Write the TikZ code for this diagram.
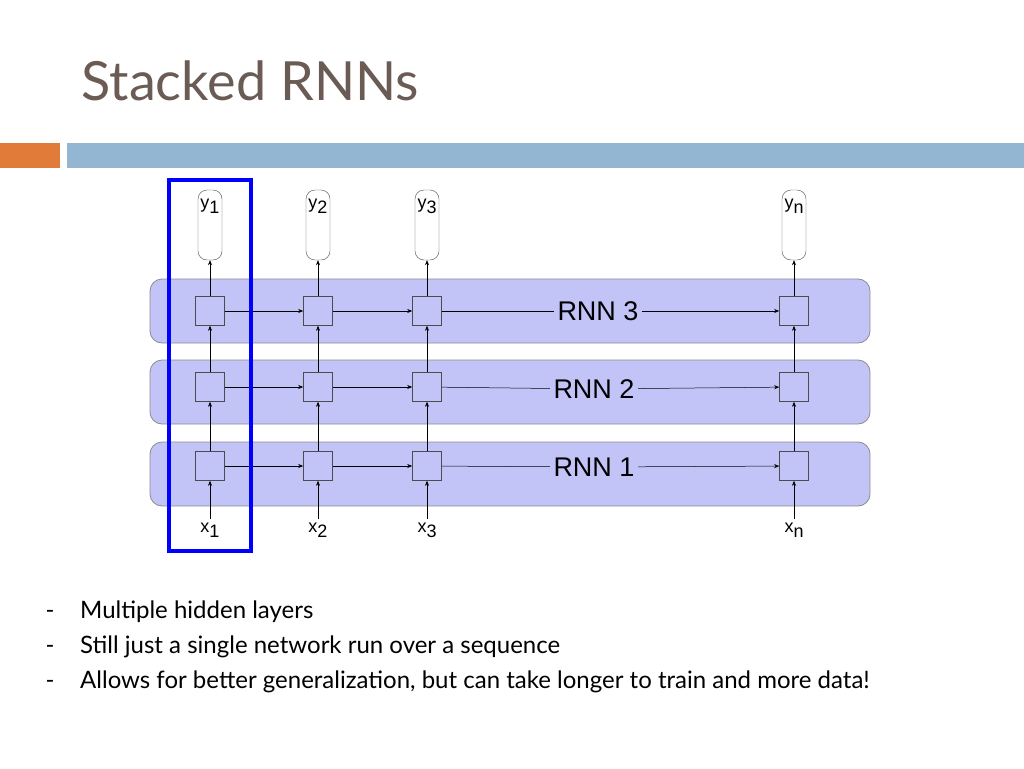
\documentclass[tikz,border=0pt]{standalone}
\usepackage{fontspec}
\setmainfont{Lato}
\newfontfamily\helv{Liberation Sans}
\usetikzlibrary{arrows.meta,positioning}
\definecolor{titlegray}{HTML}{6B5B55}
\definecolor{barorange}{HTML}{E07B39}
\definecolor{barblue}{HTML}{93B6D3}
\definecolor{layerfill}{HTML}{C2C4F8}
\tikzset{%
  tipA/.tip={Stealth[length=5pt,width=4pt]},
  layer/.style={draw=black!45,fill=layerfill,rounded corners=12pt,minimum width=720pt,minimum height=64pt,line width=0.8pt},
  cell/.style={draw=black!70,fill=layerfill,minimum size=29pt,inner sep=0pt,line width=0.6pt},
  outbox/.style={draw=black!70,fill=white,rounded corners=9pt,minimum width=24pt,minimum height=70pt,inner sep=0pt},
  lbl/.style={font=\helv\fontsize{18}{18}\selectfont},
  rnn/.style={font=\helv\fontsize{27}{27}\selectfont},
  conn/.style={-tipA,line width=0.5pt}
}
\begin{document}
\begin{tikzpicture}[x=1pt,y=-1pt]
    \useasboundingbox (0,0) rectangle (1024,768);
    \node[anchor=base west,text=titlegray,font=\fontsize{54}{54}\selectfont] (title) at (78,100) {Stacked RNNs};
    \fill[barorange] (0,143) rectangle (60,168);
    \fill[barblue] (67,143) rectangle (1024,168);
    % layers
    \node[layer] (L3) at (510,311) {};
    \node[layer] (L2) at (510,392) {};
    \node[layer] (L1) at (510,474) {};
    \node[rnn] (R3) at (598,311) {RNN 3};
    \node[rnn] (R2) at (594,389) {RNN 2};
    \node[rnn] (R1) at (594,467) {RNN 1};
    % cells, outputs, inputs
    \foreach \i/\x/\s in {1/210/1,2/318/2,3/427/3,4/794/n}{
      \node[cell] (c3\i) at (\x,311) {};
      \node[cell] (c2\i) at (\x,387) {};
      \node[cell] (c1\i) at (\x,466) {};
      \node[outbox] (y\i) at (\x,225) {};
      \node[lbl,anchor=north] at ([yshift=-6pt]y\i.north) {y\raisebox{-5pt}{\s}};
      \node[lbl] (x\i) at (\x,530) {x\raisebox{-5pt}{\s}};
      \draw[conn] (x\i) -- (c1\i);
      \draw[conn] (c1\i) -- (c2\i);
      \draw[conn] (c2\i) -- (c3\i);
      \draw[conn] (c3\i) -- (y\i);
    }
    \foreach \l in {1,2,3}{
      \draw[conn] (c\l1) -- (c\l2);
      \draw[conn] (c\l2) -- (c\l3);
      \draw[line width=0.5pt] (c\l3) -- (R\l);
      \draw[conn] (R\l) -- (c\l4);
    }
    % highlight
    \draw[blue,line width=3.5pt] (169,180) rectangle (251,551);
    % bullets
    \foreach \t/\y in {Multiple hidden layers/611,Still just a single network run over a sequence/646,{Allows for better generalization, but can take longer to train and more data!}/681}{
      \node[anchor=base west,font=\fontsize{24}{24}\selectfont] at (42,\y+7) {-};
      \node[anchor=base west,font=\fontsize{24}{24}\selectfont,inner sep=0pt] at (80,\y+7) {\t};
    }
\end{tikzpicture}
\end{document}
